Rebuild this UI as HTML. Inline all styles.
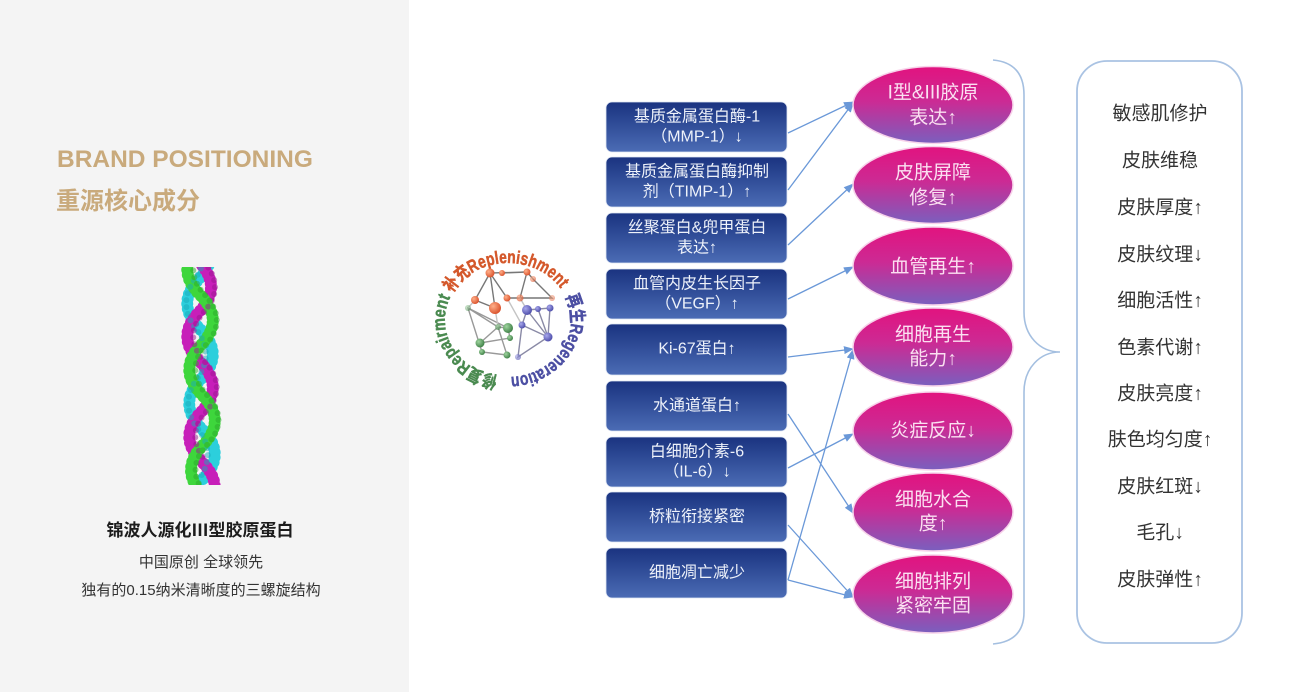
<!DOCTYPE html>
<html>
<head>
<meta charset="utf-8">
<style>
  html,body{margin:0;padding:0;background:#fff;}
  body{width:1308px;height:692px;overflow:hidden;}
  svg{display:block;}
  .f{font-family:"Liberation Sans","Noto Sans CJK SC",sans-serif;}
</style>
</head>
<body>
<svg class="f" width="1308" height="692" viewBox="0 0 1308 692" xmlns="http://www.w3.org/2000/svg">
  <defs>
    <linearGradient id="bx" x1="0" y1="0" x2="0" y2="1">
      <stop offset="0" stop-color="#1a3380"/>
      <stop offset="1" stop-color="#4b6cb5"/>
    </linearGradient>
    <linearGradient id="el" x1="0" y1="0" x2="0" y2="1">
      <stop offset="0" stop-color="#e2137f"/>
      <stop offset="0.45" stop-color="#cc2a94"/>
      <stop offset="1" stop-color="#7a5fbe"/>
    </linearGradient>
    <radialGradient id="og" cx="0.35" cy="0.35" r="0.7">
      <stop offset="0" stop-color="#ffb08a"/>
      <stop offset="1" stop-color="#d9502a"/>
    </radialGradient>
    <radialGradient id="gg" cx="0.35" cy="0.35" r="0.7">
      <stop offset="0" stop-color="#9fd49f"/>
      <stop offset="1" stop-color="#3d7f45"/>
    </radialGradient>
    <radialGradient id="bg" cx="0.35" cy="0.35" r="0.7">
      <stop offset="0" stop-color="#a8a8ec"/>
      <stop offset="1" stop-color="#4a4aa8"/>
    </radialGradient>
    <marker id="ah" markerWidth="10" markerHeight="8" refX="9" refY="4" orient="auto" markerUnits="userSpaceOnUse">
      <path d="M0,0 L10,4 L0,8 z" fill="#6a98d8"/>
    </marker>
    <clipPath id="hc"><rect x="160" y="267" width="80" height="218" rx="12"/></clipPath>
    <path id="ring" d="M 508 377 A 63 57 0 1 1 508 263 A 63 57 0 1 1 508 377"/>
  </defs>

  <rect x="0" y="0" width="1308" height="692" fill="#ffffff"/>
  <rect x="0" y="0" width="409" height="692" fill="#f4f4f4"/>

  <!-- Left titles -->
  <text x="57" y="167" font-size="24.5" font-weight="bold" fill="#c9aa7c">BRAND POSITIONING</text>
  <text x="56" y="209" font-size="24" font-weight="bold" fill="#c9aa7c">重源核心成分</text>

  <!-- Helix -->
  <g clip-path="url(#hc)" fill="none" stroke-linecap="round" stroke-dasharray="0 5">
    <path d="M 199 229 Q 223 254 199 279 T 200 329 T 201 379 T 202 429 T 203 479 T 203 529" stroke="#2ccfdc" stroke-width="12"/>
    <path d="M 199 262 Q 223 287 199 312 T 200 362 T 201 412 T 202 462 T 203 512" stroke="#c71fb9" stroke-width="12"/>
    <path d="M 199 195 Q 223 220 199 245 T 200 295 T 201 345 T 202 395 T 203 445 T 203 495" stroke="#3ed63c" stroke-width="12"/>
  </g>
  <g clip-path="url(#hc)" fill="none" stroke-linecap="round" stroke-dasharray="0 7" opacity="0.5">
    <path d="M 195 229 Q 213 254 195 279 T 196 329 T 197 379 T 198 429 T 199 479" stroke="#18a9b8" stroke-width="6"/>
    <path d="M 204 262 Q 226 287 204 312 T 205 362 T 206 412 T 207 462" stroke="#9a1690" stroke-width="6"/>
    <path d="M 204 195 Q 226 220 204 245 T 205 295 T 206 345 T 207 395 T 207 445 T 207 495" stroke="#2ba82a" stroke-width="6"/>
  </g>

  <!-- Left bottom text -->
  <text x="200" y="536" font-size="17" font-weight="bold" fill="#1c1c1c" text-anchor="middle">锦波人源化Ⅲ型胶原蛋白</text>
  <text x="201" y="567" font-size="15" fill="#333" text-anchor="middle">中国原创 全球领先</text>
  <text x="201" y="595" font-size="15" fill="#333" text-anchor="middle">独有的0.15纳米清晰度的三螺旋结构</text>

  <!-- Logo -->
  <g font-weight="bold" font-size="18" stroke-width="0.5">
    <text fill="#4a8a50" stroke="#4a8a50"><textPath href="#ring" startOffset="10" textLength="108" lengthAdjust="spacingAndGlyphs">修复Repairment</textPath></text>
    <text fill="#d4582b" stroke="#d4582b"><textPath href="#ring" startOffset="122" textLength="127" lengthAdjust="spacingAndGlyphs">补充Replenishment</textPath></text>
    <text fill="#4c4fa3" stroke="#4c4fa3"><textPath href="#ring" startOffset="258" textLength="116" lengthAdjust="spacingAndGlyphs">再生Regeneration</textPath></text>
  </g>
  <g stroke-width="1.4" fill="none">
    <path d="M490 273 L475 300 L495 308 Z M490 273 L507 298 L520 298 L527 272 Z M502 273 L527 272 L533 279 L552 298 L520 298" stroke="#777"/>
    <path d="M468 308 L482 352 L507 355 L498 327 Z M498 327 L508 328 L510 338 L480 343 Z M468 308 L508 328" stroke="#999"/>
    <path d="M527 310 L550 308 L548 337 Z M527 310 L522 325 L518 357 L548 337 M538 309 L548 337 M522 325 L548 337" stroke="#8a8aa6"/>
    <path d="M475 300 L468 308 M495 308 L498 327 M520 298 L527 310 M507 298 L522 325" stroke="#c4c4c4"/>
  </g>
  <g>
    <circle cx="490" cy="273" r="4.5" fill="url(#og)"/>
    <circle cx="502" cy="273" r="3" fill="url(#og)"/>
    <circle cx="527" cy="272" r="3.5" fill="url(#og)"/>
    <circle cx="475" cy="300" r="4" fill="url(#og)"/>
    <circle cx="495" cy="308" r="6" fill="url(#og)"/>
    <circle cx="507" cy="298" r="3.5" fill="url(#og)"/>
    <circle cx="520" cy="298" r="3.5" fill="url(#og)" opacity="0.7"/>
    <circle cx="533" cy="279" r="3" fill="url(#og)" opacity="0.6"/>
    <circle cx="552" cy="298" r="3" fill="url(#og)" opacity="0.5"/>
    <circle cx="468" cy="308" r="3" fill="url(#gg)" opacity="0.5"/>
    <circle cx="508" cy="328" r="5" fill="url(#gg)"/>
    <circle cx="498" cy="327" r="3" fill="url(#gg)" opacity="0.7"/>
    <circle cx="480" cy="343" r="4.5" fill="url(#gg)"/>
    <circle cx="510" cy="338" r="3" fill="url(#gg)"/>
    <circle cx="482" cy="352" r="3" fill="url(#gg)"/>
    <circle cx="507" cy="355" r="3.5" fill="url(#gg)"/>
    <circle cx="527" cy="310" r="5" fill="url(#bg)"/>
    <circle cx="538" cy="309" r="3" fill="url(#bg)"/>
    <circle cx="550" cy="308" r="3.5" fill="url(#bg)"/>
    <circle cx="522" cy="325" r="3.5" fill="url(#bg)"/>
    <circle cx="548" cy="337" r="4.5" fill="url(#bg)"/>
    <circle cx="518" cy="357" r="3" fill="url(#bg)" opacity="0.6"/>
  </g>

  <!-- Blue boxes -->
  <g fill="url(#bx)" stroke="#dfe6f3" stroke-width="0.8">
    <rect x="606" y="102" width="181" height="50" rx="6"/>
    <rect x="606" y="157" width="181" height="50" rx="6"/>
    <rect x="606" y="213" width="181" height="50" rx="6"/>
    <rect x="606" y="269" width="181" height="50" rx="6"/>
    <rect x="606" y="324" width="181" height="51" rx="6"/>
    <rect x="606" y="381" width="181" height="50" rx="6"/>
    <rect x="606" y="437" width="181" height="50" rx="6"/>
    <rect x="606" y="492" width="181" height="50" rx="6"/>
    <rect x="606" y="548" width="181" height="50" rx="6"/>
  </g>
  <g fill="#eef2fa" font-size="16" text-anchor="middle" dominant-baseline="central">
    <text x="697" y="117">基质金属蛋白酶-1</text>
    <text x="697" y="137">（MMP-1）↓</text>
    <text x="697" y="172">基质金属蛋白酶抑制</text>
    <text x="697" y="192">剂（TIMP-1）↑</text>
    <text x="697" y="228">丝聚蛋白&amp;兜甲蛋白</text>
    <text x="697" y="248">表达↑</text>
    <text x="697" y="284">血管内皮生长因子</text>
    <text x="697" y="304">（VEGF）↑</text>
    <text x="697" y="349">Ki-67蛋白↑</text>
    <text x="697" y="406">水通道蛋白↑</text>
    <text x="697" y="452">白细胞介素-6</text>
    <text x="697" y="472">（IL-6）↓</text>
    <text x="697" y="517">桥粒衔接紧密</text>
    <text x="697" y="573">细胞凋亡减少</text>
  </g>

  <!-- Arrows -->
  <g stroke="#6a98d8" stroke-width="1.3" fill="none" marker-end="url(#ah)">
    <line x1="788" y1="133" x2="853" y2="102"/>
    <line x1="788" y1="190" x2="853" y2="103"/>
    <line x1="788" y1="245" x2="853" y2="184"/>
    <line x1="788" y1="299" x2="853" y2="267"/>
    <line x1="788" y1="357" x2="853" y2="349"/>
    <line x1="788" y1="414" x2="853" y2="513"/>
    <line x1="788" y1="468" x2="853" y2="434"/>
    <line x1="788" y1="525" x2="853" y2="597"/>
    <line x1="788" y1="580" x2="853" y2="350"/>
    <line x1="788" y1="580" x2="853" y2="597"/>
  </g>

  <!-- Ellipses -->
  <g fill="url(#el)" stroke="#f7d3ea" stroke-width="1.5">
    <ellipse cx="933" cy="105" rx="80" ry="38.5"/>
    <ellipse cx="933" cy="185" rx="80" ry="38.5"/>
    <ellipse cx="933" cy="266" rx="80" ry="39"/>
    <ellipse cx="933" cy="347" rx="80" ry="39"/>
    <ellipse cx="933" cy="431" rx="80" ry="39"/>
    <ellipse cx="933" cy="512" rx="80" ry="39"/>
    <ellipse cx="933" cy="594" rx="80" ry="39"/>
  </g>
  <g fill="#fbe0f1" font-size="19" text-anchor="middle" dominant-baseline="central">
    <text x="933" y="93">I型&amp;III胶原</text>
    <text x="933" y="118">表达↑</text>
    <text x="933" y="173">皮肤屏障</text>
    <text x="933" y="198">修复↑</text>
    <text x="933" y="267">血管再生↑</text>
    <text x="933" y="335">细胞再生</text>
    <text x="933" y="359">能力↑</text>
    <text x="933" y="431">炎症反应↓</text>
    <text x="933" y="500">细胞水合</text>
    <text x="933" y="524">度↑</text>
    <text x="933" y="582">细胞排列</text>
    <text x="933" y="606">紧密牢固</text>
  </g>

  <!-- Brace -->
  <path d="M 993 60 C 1015 62, 1024 75, 1024 95 L 1024 312 C 1024 336, 1040 352, 1060 352 C 1040 352, 1024 368, 1024 392 L 1024 612 C 1024 630, 1015 642, 993 644" fill="none" stroke="#a4bfe0" stroke-width="1.6"/>

  <!-- Right box -->
  <rect x="1077" y="61" width="165" height="582" rx="30" fill="#fff" stroke="#aac3e3" stroke-width="1.8"/>
  <g fill="#333" font-size="19" text-anchor="middle" dominant-baseline="central">
    <text x="1160" y="114">敏感肌修护</text>
    <text x="1160" y="161">皮肤维稳</text>
    <text x="1160" y="208">皮肤厚度↑</text>
    <text x="1160" y="255">皮肤纹理↓</text>
    <text x="1160" y="301">细胞活性↑</text>
    <text x="1160" y="348">色素代谢↑</text>
    <text x="1160" y="394">皮肤亮度↑</text>
    <text x="1160" y="440">肤色均匀度↑</text>
    <text x="1160" y="487">皮肤红斑↓</text>
    <text x="1160" y="533">毛孔↓</text>
    <text x="1160" y="580">皮肤弹性↑</text>
  </g>
</svg>
</body>
</html>
